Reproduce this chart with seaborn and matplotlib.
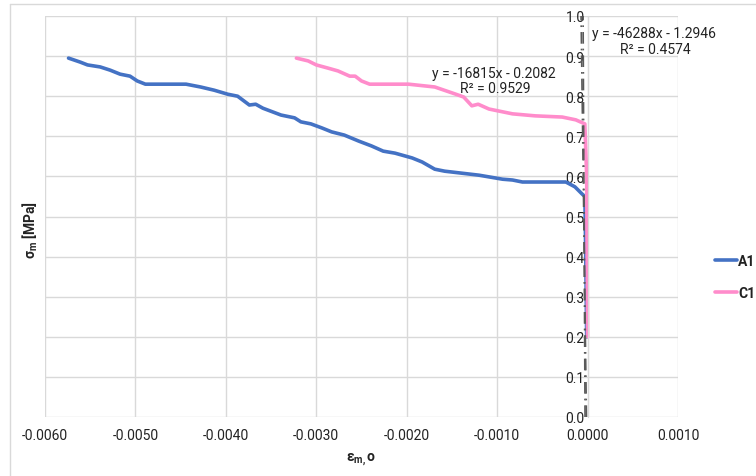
import matplotlib
matplotlib.use("Agg")
import matplotlib.pyplot as plt
from matplotlib.lines import Line2D
import seaborn as sns
import numpy as np
import pandas as pd

# ---- data ----
a1_x = [-0.00574, -0.00561, -0.00553, -0.00539, -0.00528, -0.00517, -0.00506, -0.00498,
        -0.00489, -0.00444, -0.00428, -0.00413, -0.00398, -0.00387, -0.00374, -0.00367,
        -0.00359, -0.00339, -0.00324, -0.00317, -0.00306, -0.00294, -0.00283, -0.00269,
        -0.00253, -0.00239, -0.00226, -0.00213, -0.00194, -0.00183, -0.00169, -0.00158,
        -0.00139, -0.00120, -0.00094, -0.00083, -0.00072, -0.00024, -0.00014, -0.00006,
        -0.00003, -0.00002, -0.00001]
a1_y = [0.895, 0.885, 0.878, 0.873, 0.865, 0.855, 0.850, 0.838,
        0.830, 0.830, 0.823, 0.815, 0.805, 0.800, 0.778, 0.780,
        0.770, 0.753, 0.746, 0.736, 0.731, 0.721, 0.711, 0.703,
        0.688, 0.676, 0.663, 0.658, 0.646, 0.636, 0.618, 0.613,
        0.608, 0.603, 0.593, 0.591, 0.586, 0.586, 0.574, 0.556,
        0.550, 0.400, 0.200]

c1_x = [-0.00322, -0.00309, -0.00300, -0.00287, -0.00276, -0.00263, -0.00257, -0.00250,
        -0.00241, -0.00198, -0.00169, -0.00147, -0.00137, -0.00128, -0.00121, -0.00109,
        -0.00083, -0.00058, -0.00028, -0.00013, -0.00003, -0.00001, -0.000005, 0.0]
c1_y = [0.895, 0.888, 0.878, 0.870, 0.863, 0.850, 0.850, 0.838,
        0.830, 0.830, 0.823, 0.806, 0.798, 0.776, 0.780, 0.768,
        0.756, 0.751, 0.748, 0.741, 0.731, 0.600, 0.400, 0.200]

series_names = ["A1", "C1"]
trend_slopes = [-16815, -46288]
trend_intercepts = [-0.2082, -1.2946]
trend_r2 = ["0.9529", "0.4574"]
x_ticks = [-0.006, -0.005, -0.004, -0.003, -0.002, -0.001, 0.0, 0.001]
y_ticks = [0.0, 0.1, 0.2, 0.3, 0.4, 0.5, 0.6, 0.7, 0.8, 0.9, 1.0]

df = pd.concat([
    pd.DataFrame({"x": a1_x, "y": a1_y, "series": "A1", "order": range(len(a1_x))}),
    pd.DataFrame({"x": c1_x, "y": c1_y, "series": "C1", "order": range(len(c1_x))}),
])

sns.set_style("white")
plt.rcParams["font.family"] = ["Roboto", "DejaVu Sans"]
plt.rcParams["mathtext.default"] = "regular"

fig = plt.figure(figsize=(7.56, 4.77), dpi=100)
ax = fig.add_axes([45 / 756, 1 - 418 / 477, (678 - 45) / 756, (418 - 17) / 477])

palette = {"A1": "#4472C4", "C1": "#FF8CCB"}
sns.lineplot(data=df, x="x", y="y", hue="series", palette=palette, sort=False,
             estimator=None, linewidth=2.6, ax=ax, legend=True)

# trendlines
ty = np.array([0.0, 1.0])
for m, b in zip(trend_slopes, trend_intercepts):
    tx = (ty - b) / m
    ax.plot(tx, ty, color="#595959", lw=1.2, linestyle=(0, (7, 3, 1, 3)), zorder=5)

ax.text(0.000052, 0.958, "y = -46288x - 1.2946", fontsize=10, color="#222222",
        ha="left", va="center")
ax.text(0.000052 + 0.00070, 0.918, "R² = " + trend_r2[1], fontsize=10, color="#222222",
        ha="center", va="center")
ax.text(-0.00172, 0.858, "y = -16815x - 0.2082", fontsize=10, color="#222222",
        ha="left", va="center")
ax.text(-0.00102, 0.820, "R² = " + trend_r2[0], fontsize=10, color="#222222",
        ha="center", va="center")

ax.set_xlim(-0.006, 0.001)
ax.set_ylim(0, 1.0)
ax.set_xticks(x_ticks)
ax.set_xticklabels([f"{v:.4f}" for v in x_ticks])
ax.set_yticks(y_ticks)
ax.set_yticklabels([f"{v:.1f}" for v in y_ticks])
ax.grid(True, color="#D9D9D9", lw=1.0)
ax.set_axisbelow(True)
for s in ["top", "right", "bottom"]:
    ax.spines[s].set_visible(False)
ax.spines["left"].set_position(("data", 0))
ax.spines["left"].set_color("#D9D9D9")
ax.tick_params(axis="both", length=0, labelsize=10, colors="#222222")
ax.tick_params(axis="x", pad=8)
ax.tick_params(axis="y", pad=2)

ax.set_xlabel("ε$_{m,}$o", fontsize=10, fontweight="bold", color="#222222", labelpad=6)
ax.set_ylabel("σ$_{m}$ [MPa]", fontsize=10, fontweight="bold", color="#222222")
ax.yaxis.set_label_coords(40 / 756, 1 - 230 / 477, transform=fig.transFigure)

leg = ax.legend(loc="center left", bbox_to_anchor=(702 / 756, 1 - 278 / 477),
                bbox_transform=fig.transFigure, frameon=False, handlelength=1.6,
                handletextpad=0.1, labelspacing=1.3, fontsize=10)
for t in leg.get_texts():
    t.set_fontweight("bold")
    t.set_color("#222222")
for l in leg.get_lines():
    l.set_linewidth(2.6)

fig.add_artist(Line2D([10 / 756, 10 / 756], [0, 1 - 5 / 477], color="#D9D9D9", lw=1,
                      transform=fig.transFigure))
fig.add_artist(Line2D([10 / 756, 1], [1 - 5 / 477, 1 - 5 / 477], color="#D9D9D9", lw=1,
                      transform=fig.transFigure))

fig.savefig("out.png", dpi=100)
